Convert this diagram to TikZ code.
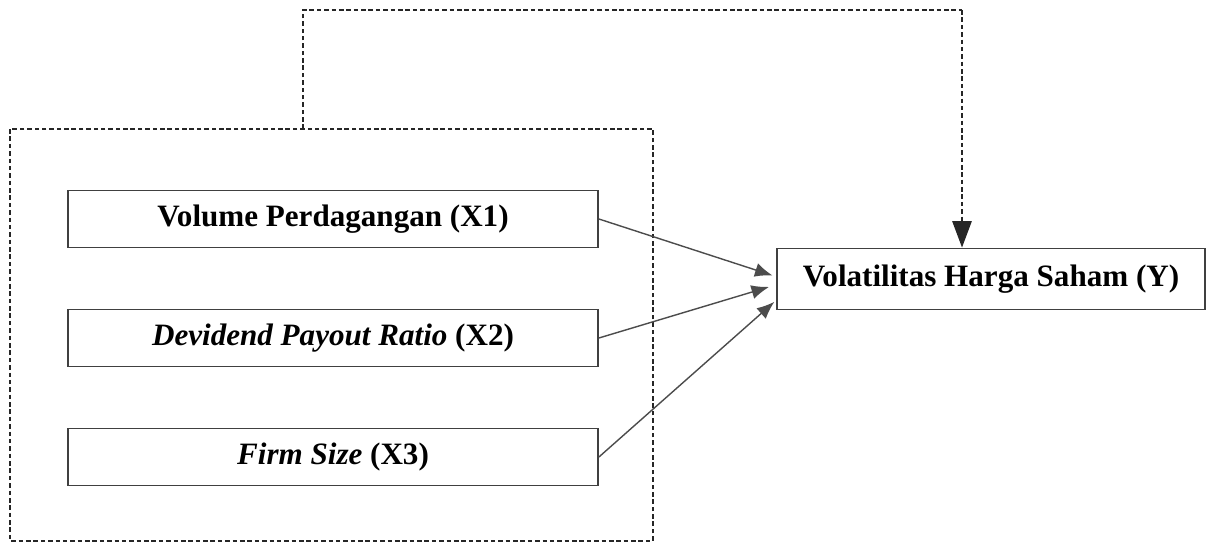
\documentclass[tikz,border=0pt]{standalone}
\usepackage{fontspec}
\setmainfont{Liberation Serif}
\usetikzlibrary{arrows.meta}
\begin{document}
\begin{tikzpicture}[x=0.02cm,y=-0.02cm,
	every node/.style={font=\fontsize{17.7}{20}\selectfont\bfseries},
	varbox/.style={draw=black!75,line width=1.1pt,rectangle,minimum width=10.6cm,minimum height=1.14cm,inner sep=0pt},
	dashline/.style={draw=black!85,line width=0.8pt,dash pattern=on 2.6pt off 1.6pt},
	link/.style={draw=black!70,line width=0.8pt,-{Latex[length=10pt,width=8pt]}}]
	\useasboundingbox (0,0) rectangle (1213,544);
	% kotak luar (garis putus-putus)
	\draw[dashline] (10,129) rectangle (653,541);
	\coordinate (outtop) at (303,129);
	\coordinate (c1) at (303,10);
	\coordinate (c2) at (962,10);
	% variabel
	\node[varbox] (x1) at (333,219) {Volume Perdagangan (X1)};
	\node[varbox] (x2) at (333,338) {\textit{Devidend Payout Ratio} (X2)};
	\node[varbox] (x3) at (333,457) {\textit{Firm Size} (X3)};
	\node[varbox,minimum width=8.56cm,minimum height=1.22cm] (y) at (991,279) {Volatilitas Harga Saham (Y)};
	% panah
	\draw[link] (x1.east) -- ([xshift=-2pt,yshift=2pt]y.west);
	\draw[link] (x2.east) -- ([xshift=-4pt,yshift=-4.5pt]y.west);
	\draw[link] (x3.east) -- ([xshift=-1pt,yshift=-13pt]y.west);
	\draw[dashline] (outtop) -- (c1) -- (c2);
	\draw[dashline,-{Triangle[length=15pt,width=11pt]}] (c2) -- (c2 |- y.north);
\end{tikzpicture}
\end{document}
